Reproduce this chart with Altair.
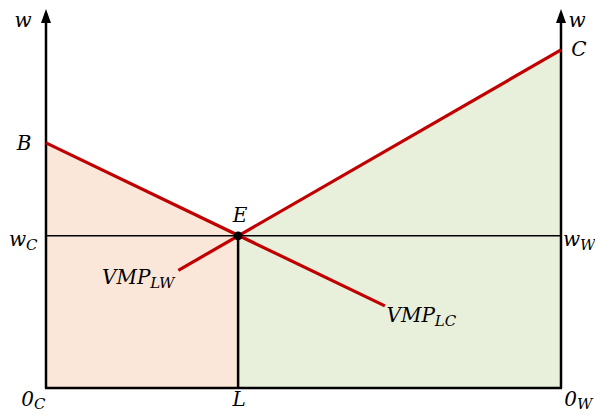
import altair as alt
import pandas as pd

# ---- model values (labour from 0_C = 0 to 0_W = 10, wage on vertical axes) ----
x_total = 10.0          # width of the box (0_C ... 0_W)
x_eq = 3.73             # L : equilibrium allocation
w_eq = 4.5              # w_C = w_W : equilibrium wage
B_val = 7.25            # intercept of VMP_LC on left axis
C_val = 10.0            # intercept of VMP_LW on right axis
y_top = 11.21           # top of the wage axes (arrow tip)

vmp_lc_x = [0.0, 6.58]
vmp_lc_y = [7.25, 2.43]
vmp_lw_x = [2.57, 10.0]
vmp_lw_y = [3.48, 10.0]

orange_x = [0.0, x_eq]
orange_y = [B_val, w_eq]
green_x = [x_eq, x_total]
green_y = [w_eq, C_val]

FONT = "DejaVu Serif"
RED = "#c00000"
MAIN = 20
SUB = 15

xs = alt.Scale(domain=[0, x_total], nice=False, zero=False)
ys = alt.Scale(domain=[0, y_top], nice=False, zero=False)


def X(f="x"):
    return alt.X(f"{f}:Q", scale=xs, axis=None)


def Y(f="y"):
    return alt.Y(f"{f}:Q", scale=ys, axis=None)


def area(xv, yv, color):
    df = pd.DataFrame({"x": xv, "y": yv, "y0": [0.0] * len(xv)})
    return alt.Chart(df).mark_area(color=color, opacity=1, line=False).encode(
        x=X(), y=Y(), y2="y0:Q"
    )


def seg(xv, yv, color, width):
    df = pd.DataFrame({"x": xv, "y": yv, "o": list(range(len(xv)))})
    return alt.Chart(df).mark_line(color=color, strokeWidth=width, strokeCap="butt").encode(
        x=X(), y=Y(), order="o:O"
    )


def label(text, x, y, dx, dy, size=MAIN, align="center"):
    df = pd.DataFrame({"x": [x], "y": [y], "t": [text]})
    return alt.Chart(df).mark_text(
        font=FONT, fontStyle="italic", fontSize=size, align=align,
        baseline="alphabetic", dx=dx, dy=dy, color="black"
    ).encode(x=X(), y=Y(), text="t:N")


def sublabel(main, sub, x, y, dx, dy, sdy):
    return label(main, x, y, dx, dy, MAIN, "right") + label(sub, x, y, dx, sdy, SUB, "left")


layers = [
    area(orange_x, orange_y, "#fbe7d9"),
    area(green_x, green_y, "#e8f0dc"),
    seg([0.0, x_total], [w_eq, w_eq], "black", 1.5),
    seg([x_eq, x_eq], [0.0, w_eq], "black", 2.5),
    seg([0.0, 0.0], [0.0, y_top - 0.2], "black", 2.5),
    seg([x_total, x_total], [0.0, y_top - 0.2], "black", 2.5),
    seg([-0.02, x_total + 0.02], [0.0, 0.0], "black", 2.5),
    seg(vmp_lc_x, vmp_lc_y, RED, 3.2),
    seg(vmp_lw_x, vmp_lw_y, RED, 3.2),
    alt.Chart(pd.DataFrame({"x": [x_eq], "y": [w_eq]})).mark_circle(
        size=80, color="black", opacity=1
    ).encode(x=X(), y=Y()),
    alt.Chart(pd.DataFrame({"x": [0.0, x_total], "y": [y_top, y_top]})).mark_point(
        shape="M0,0L0.5,1.4L-0.5,1.4Z", size=400, filled=True, color="black",
        opacity=1, strokeWidth=0
    ).encode(x=X(), y=Y()),
    label("w", 0.0, y_top, -23, 18),
    label("w", x_total, y_top, 16, 18),
    label("C", x_total, C_val, 18, 6),
    label("B", 0.0, B_val, -22, 7),
    label("E", x_eq, w_eq, 2, -14),
    label("L", x_eq, 0.0, 1, 18),
    sublabel("w", "C", 0.0, w_eq, -20, 10, 14),
    sublabel("w", "W", x_total, w_eq, 19, 10, 14),
    sublabel("0", "C", 0.0, 0.0, -12, 18, 21),
    sublabel("0", "W", x_total, 0.0, 16, 18, 21),
    sublabel("VMP", "LW", vmp_lw_x[0], vmp_lw_y[0], -28, 14, 18),
    sublabel("VMP", "LC", vmp_lc_x[-1], vmp_lc_y[-1], 50, 16, 20),
]

chart = alt.layer(*layers).properties(
    width=515,
    height=379,
    autosize=alt.AutoSizeParams(type="none"),
    padding={"left": 38, "top": 1, "right": 34, "bottom": 24},
    background="white",
).configure_view(stroke=None)

chart.save("out.html", embed_options={"renderer": "svg", "actions": False})
